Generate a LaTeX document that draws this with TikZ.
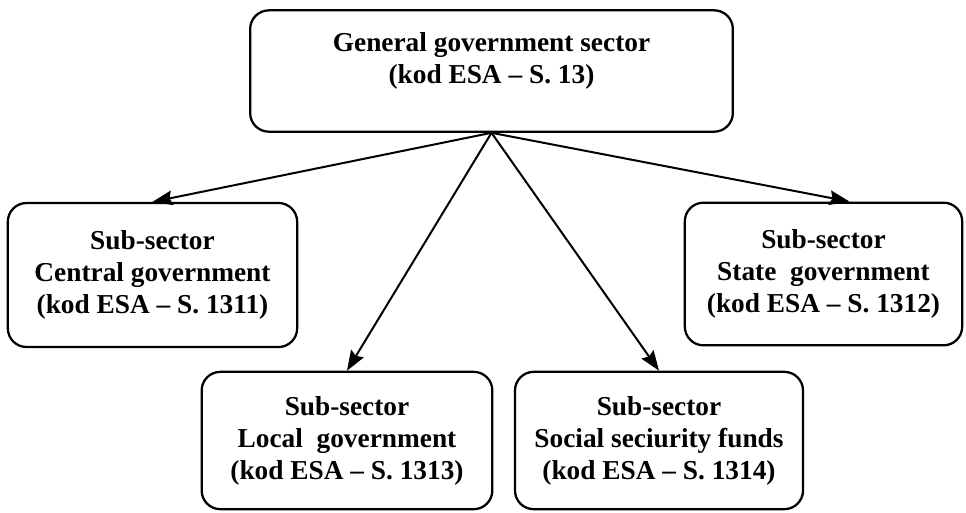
\documentclass[tikz,border=0pt]{standalone}
\usepackage{fontspec}
\setmainfont{Liberation Serif}
\usetikzlibrary{arrows.meta}

\tikzset{every picture/.style={line width=1.5pt}}
\tikzset{
  sectorbox/.style={draw, line width=1.7pt, rounded corners=14pt, align=center, font=\fontsize{20.5}{24}\selectfont\bfseries, inner sep=0pt},
  arr/.style={-{Stealth[length=15pt,width=11pt,inset=2pt]}, line width=1.5pt}
}

\begin{document}
\begin{tikzpicture}[x=0.75pt,y=0.75pt,yscale=-1,xscale=1]
	\useasboundingbox (0,0) rectangle (966,512);

	% Top box
	\node [sectorbox, minimum width=362pt, minimum height=91pt, text depth=20pt] (general) at (491.5,71) {General government sector\\(kod ESA -- S. 13)};

	% Sub-sector boxes
	\node [sectorbox, minimum width=217pt, minimum height=108pt] (central) at (152.5,275) {Sub-sector\\Central government\\(kod ESA -- S. 1311)};
	\node [sectorbox, minimum width=208pt, minimum height=107pt] (state) at (823.5,274) {Sub-sector\\State\ \ government\\(kod ESA -- S. 1312)};
	\node [sectorbox, minimum width=218pt, minimum height=103pt] (local) at (347,440.5) {Sub-sector\\Local\ \ government\\(kod ESA -- S. 1313)};
	\node [sectorbox, minimum width=216pt, minimum height=103pt] (social) at (659,440.5) {Sub-sector\\Social seciurity funds\\(kod ESA -- S. 1314)};

	% Arrows
	\draw [arr] (general.south) -- (central.north);
	\draw [arr] (general.south) -- ([xshift=19.5pt]state.north);
	\draw [arr] (general.south) -- (local.north);
	\draw [arr] (general.south) -- (social.north);

\end{tikzpicture}
\end{document}
